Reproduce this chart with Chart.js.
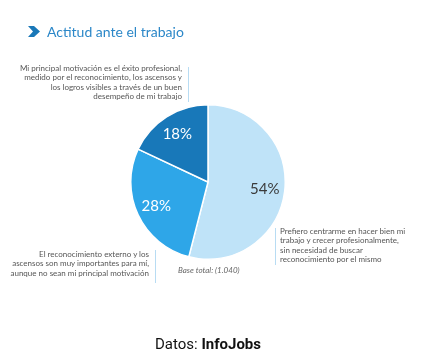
<!DOCTYPE html>
<html><head><meta charset="utf-8">
<script src="https://cdn.jsdelivr.net/npm/chart.js@4"></script>
<style>
html,body{margin:0;padding:0;background:#fff;}
#wrap{position:relative;width:426px;height:356px;overflow:hidden;font-family:Lato,"Open Sans",sans-serif;}
canvas{position:absolute;left:0;top:0;}
.t{position:absolute;font-size:8px;line-height:9.3px;color:#555;white-space:nowrap;}
.r{text-align:right;}
.vl{position:absolute;width:1px;background:#b8dcf3;}
#title{position:absolute;left:47px;top:23px;font-size:14px;color:#2b87c8;white-space:nowrap;}
#chev{position:absolute;left:28px;top:26px;}
#base{position:absolute;left:178px;top:265px;font-size:8px;font-style:italic;color:#666;}
#src{position:absolute;left:0;width:416px;text-align:center;top:335px;font-family:Roboto,sans-serif;font-size:15px;color:#111;}
</style></head><body>
<div id="wrap">
<canvas id="c" width="426" height="356"></canvas>
<svg id="chev" width="13" height="11" viewBox="0 0 13 11"><path d="M0 0 H6 L12 5.5 L6 11 H0 L5 5.5 Z" fill="#1a78b8"/></svg>
<div id="title">Actitud ante el trabajo</div>
<div class="t r" style="right:244px;top:64px;">Mi principal motivación es el éxito profesional,<br>medido por el reconocimiento, los ascensos y<br>los logros visibles a través de un buen<br>desempeño de mi trabajo</div>
<div class="vl" style="left:188px;top:67px;height:35px;"></div>
<div class="t r" style="right:277px;top:250px;">El reconocimiento externo y los<br>ascensos son muy importantes para mí,<br>aunque no sean mi principal motivación</div>
<div class="vl" style="left:155px;top:250px;height:33px;"></div>
<div class="t" style="left:280px;top:227px;">Prefiero centrarme en hacer bien mi<br>trabajo y crecer profesionalmente,<br>sin necesidad de buscar<br>reconocimiento por el mismo</div>
<div class="vl" style="left:275px;top:228px;height:37px;"></div>
<div id="base">Base total: (1.040)</div>
<div id="src">Datos: <b>InfoJobs</b></div>
</div>
<script>
const categories = [
  "Prefiero centrarme en hacer bien mi trabajo y crecer profesionalmente, sin necesidad de buscar reconocimiento por el mismo",
  "El reconocimiento externo y los ascensos son muy importantes para mí, aunque no sean mi principal motivación",
  "Mi principal motivación es el éxito profesional, medido por el reconocimiento, los ascensos y los logros visibles a través de un buen desempeño de mi trabajo"
];
const values = [54, 28, 18];
const sliceColors = ["#bfe3f8", "#2ea6e8", "#1878b9"];
const labelColors = ["#3a3a3a", "#ffffff", "#ffffff"];

const labelPlugin = {
  id: 'pctLabels',
  afterDatasetsDraw(chart) {
    const ctx = chart.ctx;
    const meta = chart.getDatasetMeta(0);
    ctx.save();
    ctx.font = '15px Lato, "Open Sans", sans-serif';
    ctx.textAlign = 'center';
    ctx.textBaseline = 'middle';
    meta.data.forEach((arc, i) => {
      const p = arc.getProps(['x','y','startAngle','endAngle','outerRadius'], true);
      const mid = (p.startAngle + p.endAngle) / 2;
      const r = p.outerRadius * 0.74;
      ctx.fillStyle = labelColors[i];
      ctx.fillText(values[i] + '%', p.x + Math.cos(mid) * r, p.y + Math.sin(mid) * r);
    });
    ctx.restore();
  }
};

new Chart(document.getElementById('c'), {
  type: 'pie',
  data: {
    labels: categories,
    datasets: [{
      data: values,
      backgroundColor: sliceColors,
      borderColor: '#ffffff',
      borderWidth: 1.5
    }]
  },
  options: {
    responsive: false,
    animation: false,
    layout: { padding: { left: 130, right: 140, top: 104, bottom: 96 } },
    plugins: { legend: { display: false }, tooltip: { enabled: false } }
  },
  plugins: [labelPlugin]
});
</script>
</body></html>
